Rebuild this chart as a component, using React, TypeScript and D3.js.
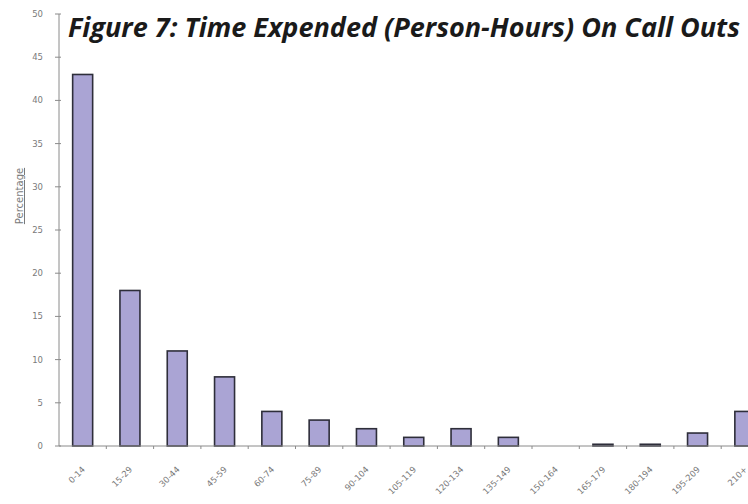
import React from "react";
import * as d3 from "d3";

const categories = [
  "0-14", "15-29", "30-44", "45-59", "60-74", "75-89", "90-104", "105-119",
  "120-134", "135-149", "150-164", "165-179", "180-194", "195-209", "210+",
];
const percentages = [43, 18, 11, 8, 4, 3, 2, 1, 2, 1, 0, 0.2, 0.2, 1.5, 4];
const yTicks = [0, 5, 10, 15, 20, 25, 30, 35, 40, 45, 50];

const W = 748;
const H = 504;
const left = 59;
const bandW = 47.3;
const top = 14;
const bottom = 446;

export default function App() {
  const x = d3
    .scaleBand<string>()
    .domain(categories)
    .range([left, left + bandW * categories.length])
    .paddingInner(0)
    .paddingOuter(0);
  const y = d3.scaleLinear().domain([0, 50]).range([bottom, top]);
  const barW = 20;
  const axisColor = "#8a8a8a";
  const labelColor = "#7a7a7a";
  const font = "Verdana, 'DejaVu Sans', sans-serif";

  return (
    <svg
      width={W}
      height={H}
      style={{ position: "absolute", left: 0, top: 0, background: "#fff", overflow: "hidden" }}
    >
      {/* y axis */}
      <line x1={left} x2={left} y1={top} y2={bottom} stroke={axisColor} strokeWidth={1} />
      {yTicks.map((t) => (
        <g key={t}>
          <line x1={left - 4} x2={left + 2} y1={y(t)} y2={y(t)} stroke={axisColor} strokeWidth={1} />
          <text
            x={43}
            y={y(t)}
            dy="0.35em"
            textAnchor="end"
            fontFamily={font}
            fontSize={8.5}
            fill={labelColor}
          >
            {t}
          </text>
        </g>
      ))}
      <text
        transform={`translate(23,196) rotate(-90)`}
        textAnchor="middle"
        fontFamily={font}
        fontSize={10}
        fill={labelColor}
        textDecoration="underline"
      >
        Percentage
      </text>

      {/* bars */}
      {categories.map((c, i) => {
        const cx = (x(c) as number) + x.bandwidth() / 2;
        const v = percentages[i];
        if (v <= 0) return null;
        return (
          <rect
            key={c}
            x={cx - barW / 2}
            y={y(v)}
            width={barW}
            height={bottom - y(v)}
            fill="#aaa4d4"
            stroke="#2e2e3a"
            strokeWidth={1.6}
          />
        );
      })}

      {/* x axis */}
      <line x1={left} x2={W} y1={bottom} y2={bottom} stroke={axisColor} strokeWidth={1} />
      {categories.map((c) => (
        <line
          key={"t" + c}
          x1={(x(c) as number) + x.bandwidth()}
          x2={(x(c) as number) + x.bandwidth()}
          y1={bottom}
          y2={bottom + 3}
          stroke={axisColor}
          strokeWidth={1}
        />
      ))}
      {categories.map((c) => {
        const cx = (x(c) as number) + x.bandwidth() / 2;
        return (
          <text
            key={"l" + c}
            transform={`translate(${cx + 3},${bottom + 24}) rotate(-45)`}
            textAnchor="end"
            fontFamily={font}
            fontSize={8.5}
            fill={labelColor}
          >
            {c}
          </text>
        );
      })}

      {/* title */}
      <rect x={63} y={0} width={685} height={46} fill="#fff" />
      <text
        x={68}
        y={37}
        fontFamily="'Open Sans', 'Liberation Sans', sans-serif"
        fontWeight={700}
        fontStyle="italic"
        fontSize={26}
        fill="#1a1a1a"
        textLength={672}
        lengthAdjust="spacingAndGlyphs"
      >
        Figure 7:  Time Expended (Person-Hours) On Call Outs
      </text>
    </svg>
  );
}
